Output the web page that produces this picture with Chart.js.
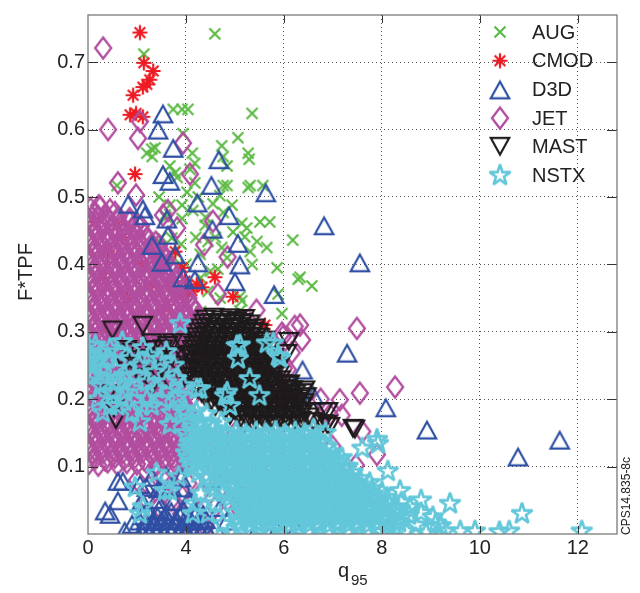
<!DOCTYPE html>
<html>
<head>
<meta charset="utf-8">
<title>F*TPF vs q95</title>
<script src="https://cdn.jsdelivr.net/npm/chart.js"></script>
<style>
  html, body { margin: 0; padding: 0; background: #fff; }
  #chart { display: block; }
</style>
</head>
<body>
<canvas id="chart" width="640" height="593"></canvas>
<script>
// axis ticks (the first x tick is printed as "0" in the original figure)
const xTickValues = [2, 4, 6, 8, 10, 12];
const xTickLabels = ["0", "4", "6", "8", "10", "12"];
const yTickValues = [0.1, 0.2, 0.3, 0.4, 0.5, 0.6, 0.7];
const yTickLabels = ["0.1", "0.2", "0.3", "0.4", "0.5", "0.6", "0.7"];

// [q95, F*TPF]
const augPoints = [
  [4.59,0.742],[3.14,0.712],[3.74,0.63],[3.92,0.63],[4.04,0.63],[5.35,0.624],[5.06,0.588],[4.73,0.576],
  [5.27,0.565],[5.29,0.556],[3.3,0.571],[3.2,0.565],[3.37,0.573],[3.94,0.594],[4.13,0.565],[4.76,0.56],
  [4.84,0.546],[4.08,0.541],[3.67,0.546],[3.82,0.529],[4.18,0.521],[4.18,0.55],[3.78,0.536],[3.31,0.56],
  [4.76,0.517],[4.84,0.517],[5.27,0.514],[5.31,0.517],[5.57,0.517],[4.02,0.507],[4.69,0.502],[3.67,0.488],
  [3.92,0.488],[4.14,0.48],[4.94,0.488],[4.76,0.477],[3.57,0.473],[3.92,0.468],[5.51,0.463],[5.71,0.463],
  [4.39,0.458],[5.14,0.461],[5.24,0.454],[5.2,0.441],[4.96,0.448],[4.45,0.434],[5.45,0.434],[6.18,0.436],
  [3.71,0.439],[5.65,0.425],[4.73,0.425],[5.31,0.419],[4.29,0.415],[4.84,0.41],[5.35,0.4],[5.86,0.395],
  [4.65,0.393],[6.29,0.378],[6.33,0.381],[6.57,0.368],[5.88,0.356],[5.1,0.352],[5.14,0.346],[5.96,0.327],
  [5.1,0.331],[3.45,0.5],[3.6,0.47],[3.5,0.44],[3.75,0.41],[3.9,0.43],[4.0,0.4],[4.3,0.38],[4.5,0.39],
  [4.45,0.36],[4.7,0.35],[4.3,0.33],[2.59,0.517],[4.25,0.5],[4.55,0.49],[4.4,0.47],[4.6,0.44],[4.2,0.44]
];

const cmodPoints = [
  [3.06,0.744],[3.14,0.699],[3.33,0.687],[3.2,0.667],[3.12,0.663],[3.26,0.674],[2.92,0.651],[2.86,0.622],
  [2.98,0.624],[3.12,0.619],[2.96,0.534],[2.14,0.463],[2.59,0.458],[3.92,0.395],[3.78,0.419],[3.98,0.375],
  [4.12,0.361],[4.33,0.366],[4.22,0.37],[4.05,0.358],[3.92,0.353],[4.59,0.381],[4.96,0.352],[5.61,0.31],
  [2.4,0.42],[2.7,0.44],[2.3,0.38],[3.1,0.4],[2.8,0.35],[3.3,0.37],[2.5,0.3],[2.05,0.2],[3.6,0.34]
];

const d3dPoints = [
  [3.53,0.624],[3.43,0.6],[3.74,0.573],[4.67,0.556],[3.53,0.534],[3.67,0.524],[4.52,0.518],[5.63,0.507],
  [4.23,0.492],[4.88,0.473],[4.54,0.453],[6.82,0.458],[5.06,0.432],[5.1,0.4],[4.24,0.403],[5.0,0.375],
  [5.8,0.356],[3.94,0.381],[4.18,0.378],[3.12,0.483],[3.16,0.473],[3.61,0.468],[3.63,0.444],[3.51,0.404],
  [3.78,0.415],[2.82,0.49],[3.31,0.429],[7.55,0.403],[6.38,0.244],[7.29,0.269],[6.6,0.206],[8.08,0.188],
  [8.92,0.155],[10.78,0.115],[11.63,0.14],
  [2.45,0.03],[2.61,0.05],[2.71,0.079],[2.61,0.079],[3.06,0.074],[2.35,0.035],[4.63,0.083],[4.84,0.02],
  [5.14,0.053],[5.61,0.045],[5.47,0.009],[5.3,0.03],[5.75,0.02],[5.9,0.012],[6.1,0.03],[6.25,0.008],
  [4.7,0.04],[4.6,0.01],[2.9,0.015],[2.75,0.005]
];

// the solid blue patch at the bottom
const d3dBottom = [
  [3.1,0.005],[3.25,0.003],[3.4,0.006],[3.55,0.004],[3.7,0.005],[3.85,0.003],[4.0,0.006],[4.15,0.004],[4.3,0.005],[4.45,0.003],
  [3.18,0.012],[3.33,0.013],[3.48,0.011],[3.63,0.012],[3.78,0.013],[3.93,0.011],[4.08,0.012],[4.23,0.013],[4.38,0.011],
  [3.05,0.02],[3.2,0.022],[3.35,0.019],[3.5,0.021],[3.65,0.02],[3.8,0.022],[3.95,0.019],[4.1,0.021],[4.25,0.02],[4.4,0.022],
  [3.12,0.028],[3.42,0.027],[3.58,0.028],[3.88,0.027],[4.18,0.028],[4.35,0.03],
  [3.2,0.035],[3.45,0.037],[3.7,0.034],[3.95,0.036],[4.2,0.035],
  [3.1,0.05],[3.4,0.052],[3.75,0.049],[4.05,0.051],
  [3.2,0.07],[3.45,0.068],[3.7,0.071],[3.95,0.069],
  [3.3,0.085],[3.6,0.087],[3.9,0.084]
];

const jetPoints = [
  [2.31,0.721],[2.41,0.6],[3.06,0.612],[3.02,0.587],[3.94,0.58],[4.08,0.534],[2.61,0.521],[2.98,0.503],
  [3.63,0.48],[3.53,0.473],[4.55,0.464],[3.82,0.454],[4.37,0.429],[4.85,0.411],[2.22,0.487],[4.65,0.356],
  [5.44,0.332],[5.96,0.298],[6.22,0.308],[6.33,0.31],[7.49,0.305],[8.27,0.218],[7.55,0.209],[7.14,0.199],
  [7.18,0.176],[6.73,0.171],[6.94,0.177],[7.6,0.152],[7.9,0.118],[7.47,0.102],[6.99,0.13],[5.98,0.293],
  [6.08,0.244],[5.76,0.283],[6.16,0.269],[5.61,0.25],[6.0,0.246],[6.37,0.288],[6.75,0.2],[5.95,0.12],
  [6.2,0.11],[6.5,0.15],[6.75,0.12],
  [3.9,0.09],[4.05,0.075],[3.95,0.06],[4.1,0.045],[3.9,0.03],[4.05,0.015],[4.2,0.03],[4.3,0.06],
  [4.45,0.08],[4.6,0.1],[4.75,0.07],[4.9,0.09],[5.05,0.11],[5.2,0.08],[4.35,0.12],[4.55,0.14],
  [4.8,0.125],[5.0,0.15],[5.3,0.13],[4.4,0.01],[4.6,0.04],[4.85,0.05],[5.1,0.035],[3.0,0.08],
  [3.25,0.07],[3.5,0.085],[3.75,0.07],[3.2,0.05],[3.45,0.04],[3.7,0.05],[3.55,0.06]
];

// the solid magenta cloud on the left
const jetCore = [
  [2.02,0.105],[2.21,0.102],[2.4,0.107],[2.6,0.103],[2.79,0.106],[3.0,0.104],[3.19,0.107],[3.4,0.102],[3.6,0.106],[3.79,0.104],[3.98,0.108],
  [2.1,0.119],[2.31,0.121],[2.5,0.117],[2.7,0.12],[2.9,0.118],[3.1,0.121],[3.3,0.118],[3.5,0.12],[3.69,0.117],[3.89,0.121],[4.08,0.119],
  [2.0,0.133],[2.2,0.135],[2.41,0.131],[2.6,0.134],[2.81,0.132],[3.0,0.135],[3.2,0.131],[3.41,0.134],[3.6,0.132],[3.8,0.135],[4.0,0.131],
  [2.11,0.147],[2.3,0.149],[2.51,0.145],[2.7,0.148],[2.9,0.146],[3.11,0.149],[3.3,0.145],[3.49,0.148],[3.7,0.146],[3.9,0.149],[4.1,0.144],
  [2.01,0.161],[2.2,0.163],[2.4,0.159],[2.61,0.162],[2.8,0.16],[3.01,0.163],[3.2,0.159],[3.4,0.162],[3.61,0.16],[3.8,0.163],[4.0,0.158],
  [2.1,0.175],[2.3,0.177],[2.5,0.173],[2.71,0.176],[2.9,0.174],[3.1,0.177],[3.31,0.173],[3.5,0.176],[3.7,0.174],[3.9,0.177],[4.1,0.172],
  [2.0,0.189],[2.21,0.191],[2.4,0.187],[2.6,0.19],[2.8,0.188],[3.0,0.191],[3.21,0.187],[3.4,0.19],[3.6,0.188],[3.81,0.191],[4.0,0.186],
  [2.11,0.203],[2.3,0.205],[2.5,0.201],[2.7,0.204],[2.91,0.202],[3.1,0.205],[3.3,0.201],[3.5,0.204],[3.71,0.202],[3.9,0.205],[4.1,0.2],
  [2.0,0.217],[2.2,0.219],[2.41,0.215],[2.6,0.218],[2.8,0.216],[3.0,0.219],[3.2,0.215],[3.41,0.218],[3.6,0.216],[3.8,0.219],[4.01,0.214],
  [2.1,0.231],[2.31,0.233],[2.5,0.229],[2.7,0.232],[2.9,0.23],[3.1,0.233],[3.31,0.229],[3.5,0.232],[3.7,0.23],[3.9,0.233],[4.1,0.228],
  [2.01,0.245],[2.2,0.247],[2.4,0.243],[2.6,0.246],[2.81,0.244],[3.0,0.247],[3.2,0.243],[3.4,0.246],[3.61,0.244],[3.8,0.247],[4.0,0.242],
  [2.1,0.259],[2.3,0.261],[2.51,0.257],[2.7,0.26],[2.9,0.258],[3.1,0.261],[3.3,0.257],[3.51,0.26],[3.7,0.258],[3.9,0.261],[4.1,0.256],
  [2.0,0.273],[2.21,0.275],[2.4,0.271],[2.6,0.274],[2.8,0.272],[3.01,0.275],[3.2,0.271],[3.4,0.274],[3.6,0.272],[3.81,0.275],[4.0,0.27],
  [2.1,0.287],[2.3,0.289],[2.5,0.285],[2.71,0.288],[2.9,0.286],[3.1,0.289],[3.3,0.285],[3.5,0.288],[3.71,0.286],[3.9,0.289],[4.1,0.284],
  [2.0,0.301],[2.2,0.303],[2.4,0.299],[2.61,0.302],[2.8,0.3],[3.0,0.303],[3.21,0.299],[3.4,0.302],[3.6,0.3],[3.8,0.303],[4.0,0.298],[4.2,0.301],
  [2.1,0.315],[2.3,0.317],[2.51,0.313],[2.7,0.316],[2.9,0.314],[3.11,0.317],[3.3,0.313],[3.5,0.316],[3.7,0.314],[3.9,0.317],[4.1,0.312],[4.3,0.316],
  [2.0,0.329],[2.2,0.331],[2.41,0.327],[2.6,0.33],[2.8,0.328],[3.0,0.331],[3.2,0.327],[3.41,0.33],[3.6,0.328],[3.8,0.331],[4.0,0.326],[4.2,0.33],
  [2.1,0.343],[2.31,0.345],[2.5,0.341],[2.7,0.344],[2.9,0.342],[3.1,0.345],[3.3,0.341],[3.51,0.344],[3.7,0.342],[3.9,0.345],[4.1,0.34],
  [2.0,0.357],[2.2,0.359],[2.4,0.355],[2.61,0.358],[2.8,0.356],[3.0,0.359],[3.2,0.355],[3.4,0.358],[3.6,0.356],[3.81,0.359],[4.0,0.354],
  [2.1,0.371],[2.3,0.373],[2.5,0.369],[2.7,0.372],[2.91,0.37],[3.1,0.373],[3.3,0.369],[3.5,0.372],[3.7,0.37],[3.88,0.372],
  [2.0,0.385],[2.2,0.387],[2.41,0.383],[2.6,0.386],[2.8,0.384],[3.0,0.387],[3.2,0.383],[3.4,0.386],[3.6,0.384],[3.75,0.387],
  [2.1,0.399],[2.3,0.401],[2.5,0.397],[2.7,0.4],[2.9,0.398],[3.1,0.401],[3.3,0.397],[3.5,0.4],[3.65,0.398],
  [2.0,0.413],[2.2,0.415],[2.4,0.411],[2.6,0.414],[2.8,0.412],[3.0,0.415],[3.2,0.411],[3.4,0.414],[3.55,0.412],
  [2.1,0.427],[2.3,0.429],[2.5,0.425],[2.7,0.428],[2.9,0.426],[3.1,0.429],[3.3,0.425],[3.45,0.428],
  [2.0,0.441],[2.2,0.443],[2.4,0.439],[2.6,0.442],[2.8,0.44],[3.0,0.443],[3.2,0.439],
  [2.1,0.455],[2.3,0.457],[2.5,0.453],[2.7,0.456],[2.9,0.454],[3.08,0.457],
  [2.0,0.469],[2.2,0.471],[2.4,0.467],[2.62,0.47],[2.85,0.468],
  [2.05,0.483],[2.25,0.485],[2.45,0.481]
];

const jetCore2 = [
  [2.15,0.112],[2.35,0.11],[2.55,0.114],[2.74,0.111],[2.95,0.113],[3.15,0.11],[3.34,0.114],[3.55,0.111],[3.75,0.113],[3.95,0.11],
  [2.05,0.126],[2.25,0.124],[2.46,0.128],[2.65,0.125],[2.85,0.127],[3.05,0.124],[3.26,0.128],[3.45,0.125],[3.65,0.127],[3.84,0.124],[4.04,0.126],
  [2.15,0.14],[2.35,0.138],[2.55,0.142],[2.76,0.139],[2.95,0.141],[3.15,0.138],[3.35,0.142],[3.56,0.139],[3.75,0.141],[3.95,0.138],
  [2.05,0.154],[2.25,0.152],[2.45,0.156],[2.65,0.153],[2.86,0.155],[3.05,0.152],[3.25,0.156],[3.45,0.153],[3.65,0.155],[3.85,0.152],[4.05,0.154],
  [2.15,0.168],[2.35,0.166],[2.56,0.17],[2.75,0.167],[2.95,0.169],[3.15,0.166],[3.35,0.17],[3.55,0.167],[3.76,0.169],[3.95,0.166],
  [2.05,0.182],[2.25,0.18],[2.45,0.184],[2.66,0.181],[2.85,0.183],[3.05,0.18],[3.25,0.184],[3.46,0.181],[3.65,0.183],[3.85,0.18],[4.05,0.182],
  [2.15,0.196],[2.35,0.194],[2.55,0.198],[2.75,0.195],[2.96,0.197],[3.15,0.194],[3.35,0.198],[3.55,0.195],[3.75,0.197],[3.96,0.194],
  [2.05,0.21],[2.25,0.208],[2.46,0.212],[2.65,0.209],[2.85,0.211],[3.05,0.208],[3.26,0.212],[3.45,0.209],[3.65,0.211],[3.85,0.208],[4.05,0.21],
  [2.15,0.224],[2.35,0.222],[2.55,0.226],[2.76,0.223],[2.95,0.225],[3.15,0.222],[3.35,0.226],[3.55,0.223],[3.76,0.225],[3.95,0.222],
  [2.05,0.238],[2.26,0.236],[2.45,0.24],[2.65,0.237],[2.85,0.239],[3.06,0.236],[3.25,0.24],[3.45,0.237],[3.65,0.239],[3.86,0.236],[4.05,0.238],
  [2.15,0.252],[2.35,0.25],[2.55,0.254],[2.75,0.251],[2.96,0.253],[3.15,0.25],[3.35,0.254],[3.55,0.251],[3.75,0.253],[3.95,0.25],
  [2.05,0.266],[2.25,0.264],[2.46,0.268],[2.65,0.265],[2.85,0.267],[3.05,0.264],[3.26,0.268],[3.45,0.265],[3.65,0.267],[3.85,0.264],[4.05,0.266],
  [2.15,0.28],[2.36,0.278],[2.55,0.282],[2.75,0.279],[2.95,0.281],[3.16,0.278],[3.35,0.282],[3.55,0.279],[3.75,0.281],[3.95,0.278],
  [2.05,0.294],[2.25,0.292],[2.45,0.296],[2.66,0.293],[2.85,0.295],[3.05,0.292],[3.25,0.296],[3.46,0.293],[3.65,0.295],[3.85,0.292],[4.05,0.294],[4.25,0.292],
  [2.15,0.308],[2.35,0.306],[2.55,0.31],[2.75,0.307],[2.96,0.309],[3.15,0.306],[3.35,0.31],[3.55,0.307],[3.76,0.309],[3.95,0.306],[4.15,0.308],
  [2.05,0.322],[2.25,0.32],[2.46,0.324],[2.65,0.321],[2.85,0.323],[3.05,0.32],[3.25,0.324],[3.46,0.321],[3.65,0.323],[3.85,0.32],[4.05,0.322],[4.25,0.32],
  [2.15,0.336],[2.35,0.334],[2.55,0.338],[2.76,0.335],[2.95,0.337],[3.15,0.334],[3.35,0.338],[3.55,0.335],[3.75,0.337],[3.96,0.334],[4.15,0.336],
  [2.05,0.35],[2.25,0.348],[2.45,0.352],[2.65,0.349],[2.86,0.351],[3.05,0.348],[3.25,0.352],[3.45,0.349],[3.66,0.351],[3.85,0.348],[4.05,0.35],
  [2.15,0.364],[2.35,0.362],[2.55,0.366],[2.75,0.363],[2.95,0.365],[3.15,0.362],[3.36,0.366],[3.55,0.363],[3.75,0.365],[3.92,0.362],
  [2.05,0.378],[2.25,0.376],[2.45,0.38],[2.66,0.377],[2.85,0.379],[3.05,0.376],[3.25,0.38],[3.45,0.377],[3.65,0.379],[3.8,0.376],
  [2.15,0.392],[2.35,0.39],[2.55,0.394],[2.75,0.391],[2.95,0.393],[3.15,0.39],[3.35,0.394],[3.55,0.391],[3.7,0.393],
  [2.05,0.406],[2.25,0.404],[2.45,0.408],[2.65,0.405],[2.85,0.407],[3.05,0.404],[3.25,0.408],[3.45,0.405],[3.6,0.407],
  [2.15,0.42],[2.35,0.418],[2.55,0.422],[2.75,0.419],[2.95,0.421],[3.15,0.418],[3.35,0.422],[3.5,0.419],
  [2.05,0.434],[2.25,0.432],[2.45,0.436],[2.65,0.433],[2.85,0.435],[3.05,0.432],[3.25,0.436],[3.38,0.433],
  [2.15,0.448],[2.35,0.446],[2.55,0.45],[2.75,0.447],[2.95,0.449],[3.14,0.446],
  [2.05,0.462],[2.25,0.46],[2.45,0.464],[2.65,0.461],[2.85,0.463],[3.0,0.46],
  [2.15,0.476],[2.35,0.474],[2.55,0.477]
];

const mastPoints = [
  [2.5,0.302],[3.12,0.309],[2.49,0.206],[2.41,0.207],[2.53,0.186],[2.57,0.169],[3.73,0.283],[3.53,0.274],
  [3.3,0.283],[3.31,0.273],[3.63,0.279],[3.92,0.283],[2.8,0.273],[2.9,0.269],[2.92,0.258],[2.76,0.25],
  [3.02,0.24],[3.51,0.244],[3.94,0.264],[3.82,0.25],[3.31,0.22],[3.67,0.225],[4.0,0.244],[4.18,0.254],[3.2,0.26],
  [3.42,0.262],[3.1,0.232],[3.72,0.262],[3.98,0.232],[2.65,0.262],[3.45,0.235],
  [6.06,0.267],[6.1,0.285],[6.12,0.222],[6.18,0.213],[6.43,0.213],[6.6,0.166],[6.8,0.181],[6.9,0.181],
  [6.8,0.163],[6.88,0.162],[6.94,0.159],[7.41,0.156],[7.45,0.155]
];

// the solid black cloud
const mastCore = [
  [4.4,0.318],[4.57,0.321],[4.72,0.317],[4.89,0.32],[5.04,0.316],[5.2,0.319],
  [4.3,0.305],[4.47,0.307],[4.62,0.303],[4.79,0.306],[4.94,0.304],[5.1,0.307],[5.27,0.303],[5.41,0.305],
  [4.22,0.292],[4.38,0.294],[4.55,0.29],[4.7,0.293],[4.87,0.291],[5.02,0.294],[5.18,0.29],[5.35,0.293],[5.5,0.291],
  [4.16,0.279],[4.33,0.281],[4.48,0.277],[4.65,0.28],[4.8,0.278],[4.96,0.281],[5.13,0.277],[5.28,0.28],[5.45,0.278],[5.6,0.281],
  [4.1,0.266],[4.27,0.268],[4.42,0.264],[4.59,0.267],[4.74,0.265],[4.91,0.268],[5.06,0.264],[5.23,0.267],[5.38,0.265],[5.55,0.268],[5.7,0.264],
  [4.14,0.253],[4.31,0.255],[4.46,0.251],[4.63,0.254],[4.78,0.252],[4.95,0.255],[5.1,0.251],[5.27,0.254],[5.42,0.252],[5.59,0.255],[5.74,0.251],
  [4.1,0.24],[4.27,0.242],[4.42,0.238],[4.59,0.241],[4.74,0.239],[4.91,0.242],[5.06,0.238],[5.23,0.241],[5.38,0.239],[5.55,0.242],[5.7,0.238],[5.85,0.241],
  [4.16,0.227],[4.33,0.229],[4.48,0.225],[4.65,0.228],[4.8,0.226],[4.97,0.229],[5.12,0.225],[5.29,0.228],[5.44,0.226],[5.61,0.229],[5.76,0.225],[5.93,0.228],
  [4.24,0.214],[4.41,0.216],[4.56,0.212],[4.73,0.215],[4.88,0.213],[5.05,0.216],[5.2,0.212],[5.37,0.215],[5.52,0.213],[5.69,0.216],[5.84,0.212],[6.01,0.215],[6.15,0.213],
  [4.4,0.201],[4.57,0.203],[4.72,0.199],[4.89,0.202],[5.04,0.2],[5.21,0.203],[5.36,0.199],[5.53,0.202],[5.68,0.2],[5.85,0.203],[6.0,0.199],[6.17,0.202],[6.31,0.2],[6.46,0.203],
  [4.6,0.188],[4.77,0.19],[4.92,0.186],[5.09,0.189],[5.24,0.187],[5.41,0.19],[5.56,0.186],[5.73,0.189],[5.88,0.187],[6.05,0.19],[6.2,0.186],[6.37,0.189],
  [4.9,0.175],[5.07,0.177],[5.22,0.173],[5.39,0.176],[5.54,0.174],[5.71,0.177],[5.86,0.173],[6.03,0.176],[6.18,0.174],[6.35,0.177],[6.5,0.173],
  [5.2,0.162],[5.37,0.164],[5.52,0.16],[5.69,0.163],[5.84,0.161],[6.01,0.164],[6.16,0.16],[6.31,0.163]
];

const mastCore2 = [
  [4.36,0.312],[4.52,0.313],[4.68,0.311],[4.84,0.313],[5.0,0.311],[5.16,0.313],[5.3,0.311],
  [4.26,0.299],[4.42,0.3],[4.58,0.298],[4.74,0.3],[4.9,0.298],[5.06,0.3],[5.22,0.298],[5.38,0.3],[5.48,0.298],
  [4.2,0.286],[4.36,0.287],[4.52,0.285],[4.68,0.287],[4.84,0.285],[5.0,0.287],[5.16,0.285],[5.32,0.287],[5.48,0.285],[5.6,0.287],
  [4.12,0.273],[4.28,0.274],[4.44,0.272],[4.6,0.274],[4.76,0.272],[4.92,0.274],[5.08,0.272],[5.24,0.274],[5.4,0.272],[5.56,0.274],[5.68,0.272],
  [4.1,0.26],[4.26,0.261],[4.42,0.259],[4.58,0.261],[4.74,0.259],[4.9,0.261],[5.06,0.259],[5.22,0.261],[5.38,0.259],[5.54,0.261],[5.7,0.259],[5.8,0.261],
  [4.12,0.247],[4.28,0.248],[4.44,0.246],[4.6,0.248],[4.76,0.246],[4.92,0.248],[5.08,0.246],[5.24,0.248],[5.4,0.246],[5.56,0.248],[5.72,0.246],[5.84,0.248],
  [4.14,0.234],[4.3,0.235],[4.46,0.233],[4.62,0.235],[4.78,0.233],[4.94,0.235],[5.1,0.233],[5.26,0.235],[5.42,0.233],[5.58,0.235],[5.74,0.233],[5.9,0.235],
  [4.2,0.221],[4.36,0.222],[4.52,0.22],[4.68,0.222],[4.84,0.22],[5.0,0.222],[5.16,0.22],[5.32,0.222],[5.48,0.22],[5.64,0.222],[5.8,0.22],[5.96,0.222],[6.08,0.22],
  [4.32,0.208],[4.48,0.209],[4.64,0.207],[4.8,0.209],[4.96,0.207],[5.12,0.209],[5.28,0.207],[5.44,0.209],[5.6,0.207],[5.76,0.209],[5.92,0.207],[6.08,0.209],[6.24,0.207],[6.38,0.209],
  [4.5,0.195],[4.66,0.196],[4.82,0.194],[4.98,0.196],[5.14,0.194],[5.3,0.196],[5.46,0.194],[5.62,0.196],[5.78,0.194],[5.94,0.196],[6.1,0.194],[6.26,0.196],[6.42,0.194],
  [4.8,0.182],[4.96,0.183],[5.12,0.181],[5.28,0.183],[5.44,0.181],[5.6,0.183],[5.76,0.181],[5.92,0.183],[6.08,0.181],[6.24,0.183],[6.4,0.181],
  [5.1,0.169],[5.26,0.17],[5.42,0.168],[5.58,0.17],[5.74,0.168],[5.9,0.17],[6.06,0.168],[6.22,0.17],[6.36,0.168]
];

const nstxPoints = [
  [2.02,0.265],[2.05,0.24],[2.14,0.254],[2.0,0.28],[2.24,0.259],[2.25,0.27],[2.4,0.26],[2.35,0.225],
  [2.55,0.245],[2.6,0.27],[2.71,0.225],[2.75,0.235],[2.5,0.21],[2.76,0.21],[2.7,0.2],[2.85,0.26],
  [2.9,0.215],[3.05,0.25],[3.12,0.276],[3.1,0.19],[3.2,0.225],[3.35,0.24],[3.47,0.259],[3.5,0.2],
  [3.3,0.19],[3.6,0.225],[3.7,0.18],[3.78,0.2],[3.85,0.205],[3.98,0.185],[3.88,0.312],[2.2,0.2],
  [2.3,0.18],[2.9,0.18],[3.06,0.166],[3.67,0.162],[2.45,0.19],[3.75,0.25],[3.6,0.27],[2.7,0.285],[2.25,0.22],
  [2.1,0.235],[2.0,0.252],[2.15,0.28],[2.3,0.245],[2.45,0.275],[2.55,0.225],[2.95,0.235],[3.25,0.265],
  [3.4,0.215],[3.8,0.23],[3.95,0.22],[2.6,0.19],[3.2,0.2],
  [4.22,0.215],[4.29,0.215],[4.8,0.205],[4.84,0.21],[4.9,0.19],[5.04,0.279],[5.06,0.26],[5.1,0.28],
  [5.65,0.283],[5.78,0.283],[5.88,0.264],[5.92,0.261],[5.3,0.23],[5.5,0.205],
  [2.96,0.069],[3.57,0.064],[3.12,0.04],[3.06,0.03],[4.18,0.045],[4.14,0.03],[3.67,0.064],[3.4,0.09],[3.85,0.085],
  [6.6,0.155],[6.85,0.15],[7.18,0.113],[7.3,0.1],[7.6,0.127],[7.9,0.14],[7.92,0.134],[8.12,0.093],
  [8.37,0.064],[8.57,0.04],[8.8,0.05],[9.04,0.025],[9.2,0.012],[9.39,0.045],[9.6,0.004],[9.9,0.004],
  [10.4,0.003],[10.6,0.004],[10.86,0.03],[12.08,0.004]
];

// the solid cyan cloud
const nstxCore = [
  [4.0,0.18],[4.21,0.182],[4.42,0.178],[4.05,0.172],[4.3,0.158],[4.55,0.156],
  [4.1,0.165],[4.31,0.167],[4.52,0.163],[4.72,0.166],
  [4.0,0.15],[4.2,0.152],[4.41,0.148],[4.62,0.151],[4.82,0.149],[5.03,0.152],[5.22,0.148],[5.43,0.151],[5.62,0.149],[5.83,0.152],[6.02,0.148],[6.23,0.151],[6.42,0.149],
  [4.1,0.135],[4.3,0.137],[4.51,0.133],[4.72,0.136],[4.92,0.134],[5.13,0.137],[5.32,0.133],[5.53,0.136],[5.72,0.134],[5.93,0.137],[6.12,0.133],[6.33,0.136],[6.52,0.134],[6.72,0.137],
  [4.0,0.12],[4.2,0.122],[4.41,0.118],[4.62,0.121],[4.82,0.119],[5.03,0.122],[5.22,0.118],[5.43,0.121],[5.62,0.119],[5.83,0.122],[6.02,0.118],[6.23,0.121],[6.42,0.119],[6.63,0.122],[6.82,0.118],[7.01,0.121],
  [4.1,0.105],[4.31,0.107],[4.52,0.103],[4.72,0.106],[4.93,0.104],[5.12,0.107],[5.33,0.103],[5.52,0.106],[5.73,0.104],[5.92,0.107],[6.13,0.103],[6.32,0.106],[6.53,0.104],[6.72,0.107],[6.93,0.103],[7.1,0.106],
  [4.25,0.09],[4.62,0.092],[4.83,0.088],[5.02,0.091],[5.23,0.089],[5.42,0.092],[5.63,0.088],[5.82,0.091],[6.03,0.089],[6.22,0.092],[6.43,0.088],[6.62,0.091],[6.83,0.089],[7.02,0.092],[7.21,0.088],[7.4,0.091],
  [4.5,0.075],[4.9,0.077],[5.12,0.073],[5.33,0.076],[5.52,0.074],[5.73,0.077],[5.92,0.073],[6.13,0.076],[6.32,0.074],[6.53,0.077],[6.72,0.073],[6.93,0.076],[7.12,0.074],[7.33,0.077],[7.52,0.073],[7.75,0.076],
  [4.3,0.06],[4.75,0.062],[5.02,0.058],[5.23,0.061],[5.42,0.059],[5.63,0.062],[5.82,0.058],[6.03,0.061],[6.22,0.059],[6.43,0.062],[6.62,0.058],[6.83,0.061],[7.02,0.059],[7.23,0.062],[7.42,0.058],[7.63,0.061],[7.82,0.059],[8.0,0.062],
  [4.6,0.045],[5.12,0.047],[5.33,0.043],[5.52,0.046],[5.73,0.044],[5.92,0.047],[6.13,0.043],[6.32,0.046],[6.53,0.044],[6.72,0.047],[6.93,0.043],[7.12,0.046],[7.33,0.044],[7.52,0.047],[7.73,0.043],[7.92,0.046],[8.15,0.044],[8.4,0.047],
  [4.45,0.03],[5.0,0.032],[5.22,0.028],[5.43,0.031],[5.62,0.029],[5.83,0.032],[6.02,0.028],[6.23,0.031],[6.42,0.029],[6.63,0.032],[6.82,0.028],[7.03,0.031],[7.22,0.029],[7.43,0.032],[7.62,0.028],[7.83,0.031],[8.02,0.029],[8.25,0.032],[8.55,0.028],[8.8,0.031],
  [4.75,0.015],[5.12,0.017],[5.33,0.013],[5.52,0.016],[5.73,0.014],[5.92,0.017],[6.13,0.013],[6.32,0.016],[6.53,0.014],[6.72,0.017],[6.93,0.013],[7.12,0.016],[7.33,0.014],[7.52,0.017],[7.73,0.013],[7.92,0.016],[8.12,0.014],[8.35,0.017],[8.7,0.013],[9.1,0.016],
  [4.9,0.003],[5.3,0.004],[5.7,0.002],[6.1,0.004],[6.5,0.003],[6.9,0.004],[7.3,0.002],[7.7,0.004],[8.0,0.003],[8.5,0.004],[8.9,0.002],[9.3,0.004]
];

const nstxCore2 = [
  [4.05,0.143],[4.25,0.142],[4.46,0.144],[4.66,0.142],[4.87,0.144],[5.07,0.142],[5.27,0.144],[5.48,0.142],[5.67,0.144],[5.88,0.142],[6.07,0.144],[6.28,0.142],[6.47,0.144],[6.65,0.142],
  [4.05,0.128],[4.25,0.127],[4.46,0.129],[4.66,0.127],[4.87,0.129],[5.07,0.127],[5.27,0.129],[5.48,0.127],[5.67,0.129],[5.88,0.127],[6.07,0.129],[6.28,0.127],[6.47,0.129],[6.67,0.127],[6.87,0.129],
  [4.05,0.113],[4.25,0.112],[4.46,0.114],[4.66,0.112],[4.87,0.114],[5.07,0.112],[5.27,0.114],[5.48,0.112],[5.67,0.114],[5.88,0.112],[6.07,0.114],[6.28,0.112],[6.47,0.114],[6.67,0.112],[6.87,0.114],[7.05,0.112],
  [4.15,0.098],[4.42,0.097],[4.67,0.099],[4.87,0.097],[5.07,0.099],[5.27,0.097],[5.48,0.099],[5.67,0.097],[5.88,0.099],[6.07,0.097],[6.28,0.099],[6.47,0.097],[6.67,0.099],[6.87,0.097],[7.07,0.099],[7.25,0.097],
  [4.4,0.083],[4.72,0.082],[4.97,0.084],[5.17,0.082],[5.38,0.084],[5.57,0.082],[5.78,0.084],[5.97,0.082],[6.18,0.084],[6.37,0.082],[6.58,0.084],[6.77,0.082],[6.98,0.084],[7.17,0.082],[7.37,0.084],[7.55,0.082],
  [4.6,0.068],[4.95,0.067],[5.17,0.069],[5.37,0.067],[5.58,0.069],[5.77,0.067],[5.98,0.069],[6.17,0.067],[6.38,0.069],[6.57,0.067],[6.78,0.069],[6.97,0.067],[7.18,0.069],[7.37,0.067],[7.58,0.069],[7.8,0.067],
  [4.9,0.053],[5.07,0.052],[5.28,0.054],[5.47,0.052],[5.68,0.054],[5.87,0.052],[6.08,0.054],[6.27,0.052],[6.48,0.054],[6.67,0.052],[6.88,0.054],[7.07,0.052],[7.28,0.054],[7.47,0.052],[7.68,0.054],[7.9,0.052],[8.1,0.054],
  [5.17,0.038],[5.38,0.037],[5.57,0.039],[5.78,0.037],[5.97,0.039],[6.18,0.037],[6.37,0.039],[6.58,0.037],[6.77,0.039],[6.98,0.037],[7.17,0.039],[7.38,0.037],[7.57,0.039],[7.78,0.037],[8.0,0.039],[8.3,0.037],
  [5.07,0.023],[5.27,0.022],[5.48,0.024],[5.67,0.022],[5.88,0.024],[6.07,0.022],[6.28,0.024],[6.47,0.022],[6.68,0.024],[6.87,0.022],[7.08,0.024],[7.27,0.022],[7.48,0.024],[7.67,0.022],[7.88,0.024],[8.1,0.022],[8.4,0.024],
  [5.1,0.009],[5.5,0.008],[5.9,0.01],[6.3,0.008],[6.7,0.01],[7.1,0.008],[7.5,0.01],[7.9,0.008],[8.25,0.01]
];

const FONT = '"Liberation Sans", Arial, Helvetica, sans-serif';
const GRID = "rgba(50,50,50,0.85)";

// MATLAB-like markers drawn once on small canvases
function marker(kind, color) {
  const c = document.createElement("canvas");
  c.width = 30;
  c.height = 30;
  const g = c.getContext("2d");
  g.translate(15, 15);
  g.strokeStyle = color;
  g.lineWidth = 2.2;
  g.beginPath();
  if (kind === "x") {
    g.moveTo(-5.5, -5.5); g.lineTo(5.5, 5.5);
    g.moveTo(5.5, -5.5); g.lineTo(-5.5, 5.5);
  } else if (kind === "asterisk") {
    for (let i = 0; i < 4; i++) {
      const a = i * Math.PI / 4;
      g.moveTo(-7.5 * Math.cos(a), -7.5 * Math.sin(a));
      g.lineTo(7.5 * Math.cos(a), 7.5 * Math.sin(a));
    }
  } else if (kind === "up") {
    g.moveTo(0, -7.7); g.lineTo(9.2, 8.8); g.lineTo(-9.2, 8.8); g.closePath();
  } else if (kind === "down") {
    g.moveTo(0, 7.7); g.lineTo(9.2, -8.8); g.lineTo(-9.2, -8.8); g.closePath();
  } else if (kind === "diamond") {
    g.lineWidth = 2.3;
    g.moveTo(0, -10.5); g.lineTo(8, 0); g.lineTo(0, 10.5); g.lineTo(-8, 0); g.closePath();
  } else if (kind === "pentagram") {
    g.lineWidth = 2.6;
    g.miterLimit = 2;
    for (let i = 0; i < 10; i++) {
      const r = i % 2 ? 4.2 : 11;
      const a = -Math.PI / 2 + i * Math.PI / 5;
      if (i === 0) g.moveTo(r * Math.cos(a), r * Math.sin(a));
      else g.lineTo(r * Math.cos(a), r * Math.sin(a));
    }
    g.closePath();
  }
  g.stroke();
  return c;
}

const series = [
  { label: "AUG", pts: augPoints, style: marker("x", "#5dba46"), order: 5 },
  { label: "CMOD", pts: cmodPoints, style: marker("asterisk", "#ed1c24"), order: 4 },
  { label: "D3D", pts: d3dPoints.concat(d3dBottom), style: marker("up", "#2e4fa3"), order: 2 },
  { label: "JET", pts: jetCore.concat(jetCore2, jetPoints), style: marker("diamond", "#b24e9f"), order: 3 },
  { label: "MAST", pts: mastPoints.concat(mastCore, mastCore2), style: marker("down", "#1f1b1c"), order: 1 },
  { label: "NSTX", pts: nstxPoints.concat(nstxCore, nstxCore2), style: marker("pentagram", "#63c7da"), order: 0 }
];

const frame = {
  id: "frame",
  afterDraw(chart) {
    const { ctx, chartArea: a, scales: { x, y } } = chart;
    ctx.save();

    // inward tick marks on all four sides
    ctx.strokeStyle = "#333";
    ctx.lineWidth = 1;
    ctx.beginPath();
    xTickValues.forEach(function (v) {
      if (v === 2) return;
      const p = Math.round(x.getPixelForValue(v)) + 0.5;
      ctx.moveTo(p, a.bottom); ctx.lineTo(p, a.bottom - 8);
      ctx.moveTo(p, a.top); ctx.lineTo(p, a.top + 8);
    });
    yTickValues.forEach(function (v) {
      const p = Math.round(y.getPixelForValue(v)) + 0.5;
      ctx.moveTo(a.left, p); ctx.lineTo(a.left + 10, p);
      ctx.moveTo(a.right, p); ctx.lineTo(a.right - 10, p);
    });
    ctx.stroke();

    // box
    ctx.strokeStyle = "#7a7a7a";
    ctx.lineWidth = 1.3;
    ctx.strokeRect(a.left, a.top, a.right - a.left, a.bottom - a.top);

    // legend
    ctx.fillStyle = "#222";
    ctx.font = "20px " + FONT;
    ctx.textAlign = "left";
    ctx.textBaseline = "middle";
    series.forEach(function (s, i) {
      const cy = 32 + i * 28.7;
      ctx.drawImage(s.style, 500 - s.style.width / 2, cy - s.style.height / 2);
      ctx.fillText(s.label, 532, cy + 1);
    });

    // y title
    ctx.save();
    ctx.translate(32, 272);
    ctx.rotate(-Math.PI / 2);
    ctx.textAlign = "center";
    ctx.textBaseline = "alphabetic";
    ctx.fillText("F*TPF", 0, 0);
    ctx.restore();

    // x title with subscript
    ctx.textBaseline = "alphabetic";
    ctx.font = "20px " + FONT;
    ctx.fillText("q", 338, 577);
    ctx.font = "15px " + FONT;
    ctx.fillText("95", 351, 585);

    // figure id on the right
    ctx.save();
    ctx.translate(630, 535);
    ctx.rotate(-Math.PI / 2);
    ctx.font = "12px " + FONT;
    ctx.fillStyle = "#222";
    ctx.fillText("CPS14.835-8c", 0, 0);
    ctx.restore();

    ctx.restore();
  }
};

new Chart(document.getElementById("chart"), {
  type: "scatter",
  data: {
    datasets: series.map(function (s) {
      return {
        label: s.label,
        data: s.pts.map(function (p) { return { x: p[0], y: p[1] }; }),
        pointStyle: s.style,
        pointRadius: 12,
        order: s.order
      };
    })
  },
  options: {
    responsive: false,
    animation: false,
    devicePixelRatio: 1,
    events: [],
    layout: { padding: { top: 5, right: 23, left: 0, bottom: 0 } },
    plugins: { legend: { display: false }, tooltip: { enabled: false } },
    scales: {
      x: {
        type: "linear",
        min: 2,
        max: 12.8,
        z: 1,
        afterBuildTicks: function (s) { s.ticks = xTickValues.map(function (v) { return { value: v }; }); },
        afterFit: function (s) { s.height = 59; },
        ticks: {
          callback: function (v, i) { return xTickLabels[i]; },
          font: { family: FONT, size: 20 },
          color: "#222",
          padding: 2,
          maxRotation: 0,
          autoSkip: false
        },
        grid: {
          drawTicks: false,
          lineWidth: 1,
          color: function (c) { return c.tick && c.tick.value === 2 ? "rgba(0,0,0,0)" : GRID; }
        },
        border: { display: false, dash: [1, 3] }
      },
      y: {
        type: "linear",
        min: 0,
        max: 0.77,
        z: 1,
        afterBuildTicks: function (s) { s.ticks = yTickValues.map(function (v) { return { value: v }; }); },
        afterFit: function (s) { s.width = 88; },
        ticks: {
          callback: function (v, i) { return yTickLabels[i]; },
          font: { family: FONT, size: 20 },
          color: "#222",
          padding: 3,
          autoSkip: false
        },
        grid: { drawTicks: false, lineWidth: 1, color: GRID },
        border: { display: false, dash: [1, 3] }
      }
    }
  },
  plugins: [frame]
});
</script>
</body>
</html>
